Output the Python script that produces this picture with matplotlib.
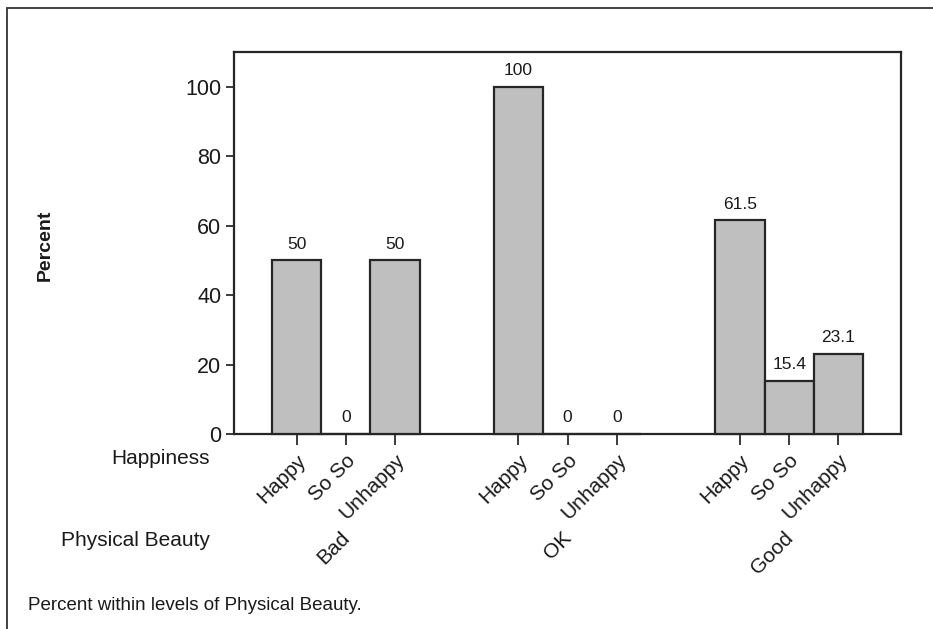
import matplotlib
matplotlib.use("Agg")
import matplotlib.pyplot as plt
from matplotlib.patches import Rectangle

plt.rcParams['font.family'] = ['Liberation Sans', 'DejaVu Sans']

beauty = ["Bad", "OK", "Good"]
happiness = ["Happy", "So So", "Unhappy"]
percent = {
    "Bad": [50, 0, 50],
    "OK": [100, 0, 0],
    "Good": [61.5, 15.4, 23.1],
}
value_labels = {
    "Bad": ["50", "0", "50"],
    "OK": ["100", "0", "0"],
    "Good": ["61.5", "15.4", "23.1"],
}

W, H = 933, 629
fig = plt.figure(figsize=(W / 100, H / 100), dpi=100)

def fx(px):
    return px / W

def fy(py):
    return 1 - py / H

ax_l, ax_r, ax_t, ax_b = 234, 901, 52, 434
ax = fig.add_axes([fx(ax_l), fy(ax_b), fx(ax_r - ax_l), (ax_b - ax_t) / H])

txt = '#1a1a1a'
gap = 4.5
xs_all, lbl_all = [], []
for gi, g in enumerate(beauty):
    xs = [gi * gap + i for i in range(3)]
    ax.bar(xs, percent[g], width=1.0, color='#bfbfbf', edgecolor='#262626',
           linewidth=1.6, zorder=3, clip_on=False)
    for x, v, s in zip(xs, percent[g], value_labels[g]):
        ax.text(x, v + 2.5, s, ha='center', va='bottom', fontsize=12.5, color=txt)
    xs_all += xs
    lbl_all += happiness

ax.set_xlim(-1.27, 2 * gap + 2 + 1.27)
ax.set_ylim(0, 110)
ax.set_yticks([0, 20, 40, 60, 80, 100])
ax.tick_params(axis='y', labelsize=15.5, length=6, width=1.2, colors=txt, pad=3)
ax.set_xticks(xs_all)
ax.set_xticklabels(lbl_all, rotation=45, ha='right', va='top', rotation_mode='anchor', fontsize=15)
ax.tick_params(axis='x', length=8, width=1.2, colors=txt, pad=4)
for s in ax.spines.values():
    s.set_linewidth(1.6)
    s.set_color('#262626')

# group labels
for gi, g in enumerate(beauty):
    xm = gi * gap + 1
    ax.annotate(g, xy=(xm, 0), xycoords=('data', 'axes fraction'),
                xytext=(-6, -94), textcoords='offset pixels',
                rotation=45, ha='right', va='top', rotation_mode='anchor',
                fontsize=15, color=txt)

fig.text(fx(210), fy(458), "Happiness", ha='right', va='center', fontsize=15, color=txt)
fig.text(fx(210), fy(541), "Physical Beauty", ha='right', va='center', fontsize=15, color=txt)
fig.text(fx(28), fy(606), "Percent within levels of Physical Beauty.", ha='left', va='center', fontsize=13.5, color=txt)
fig.text(fx(45), fy(245), "Percent", rotation=90, ha='center', va='center', fontsize=14, fontweight='bold', color=txt)

fig.patches.append(Rectangle((fx(6.5), -0.1), 1.2, fy(8) + 0.1, transform=fig.transFigure,
                             fill=False, edgecolor='#333333', linewidth=1.3))

fig.savefig("out.png", dpi=100)
